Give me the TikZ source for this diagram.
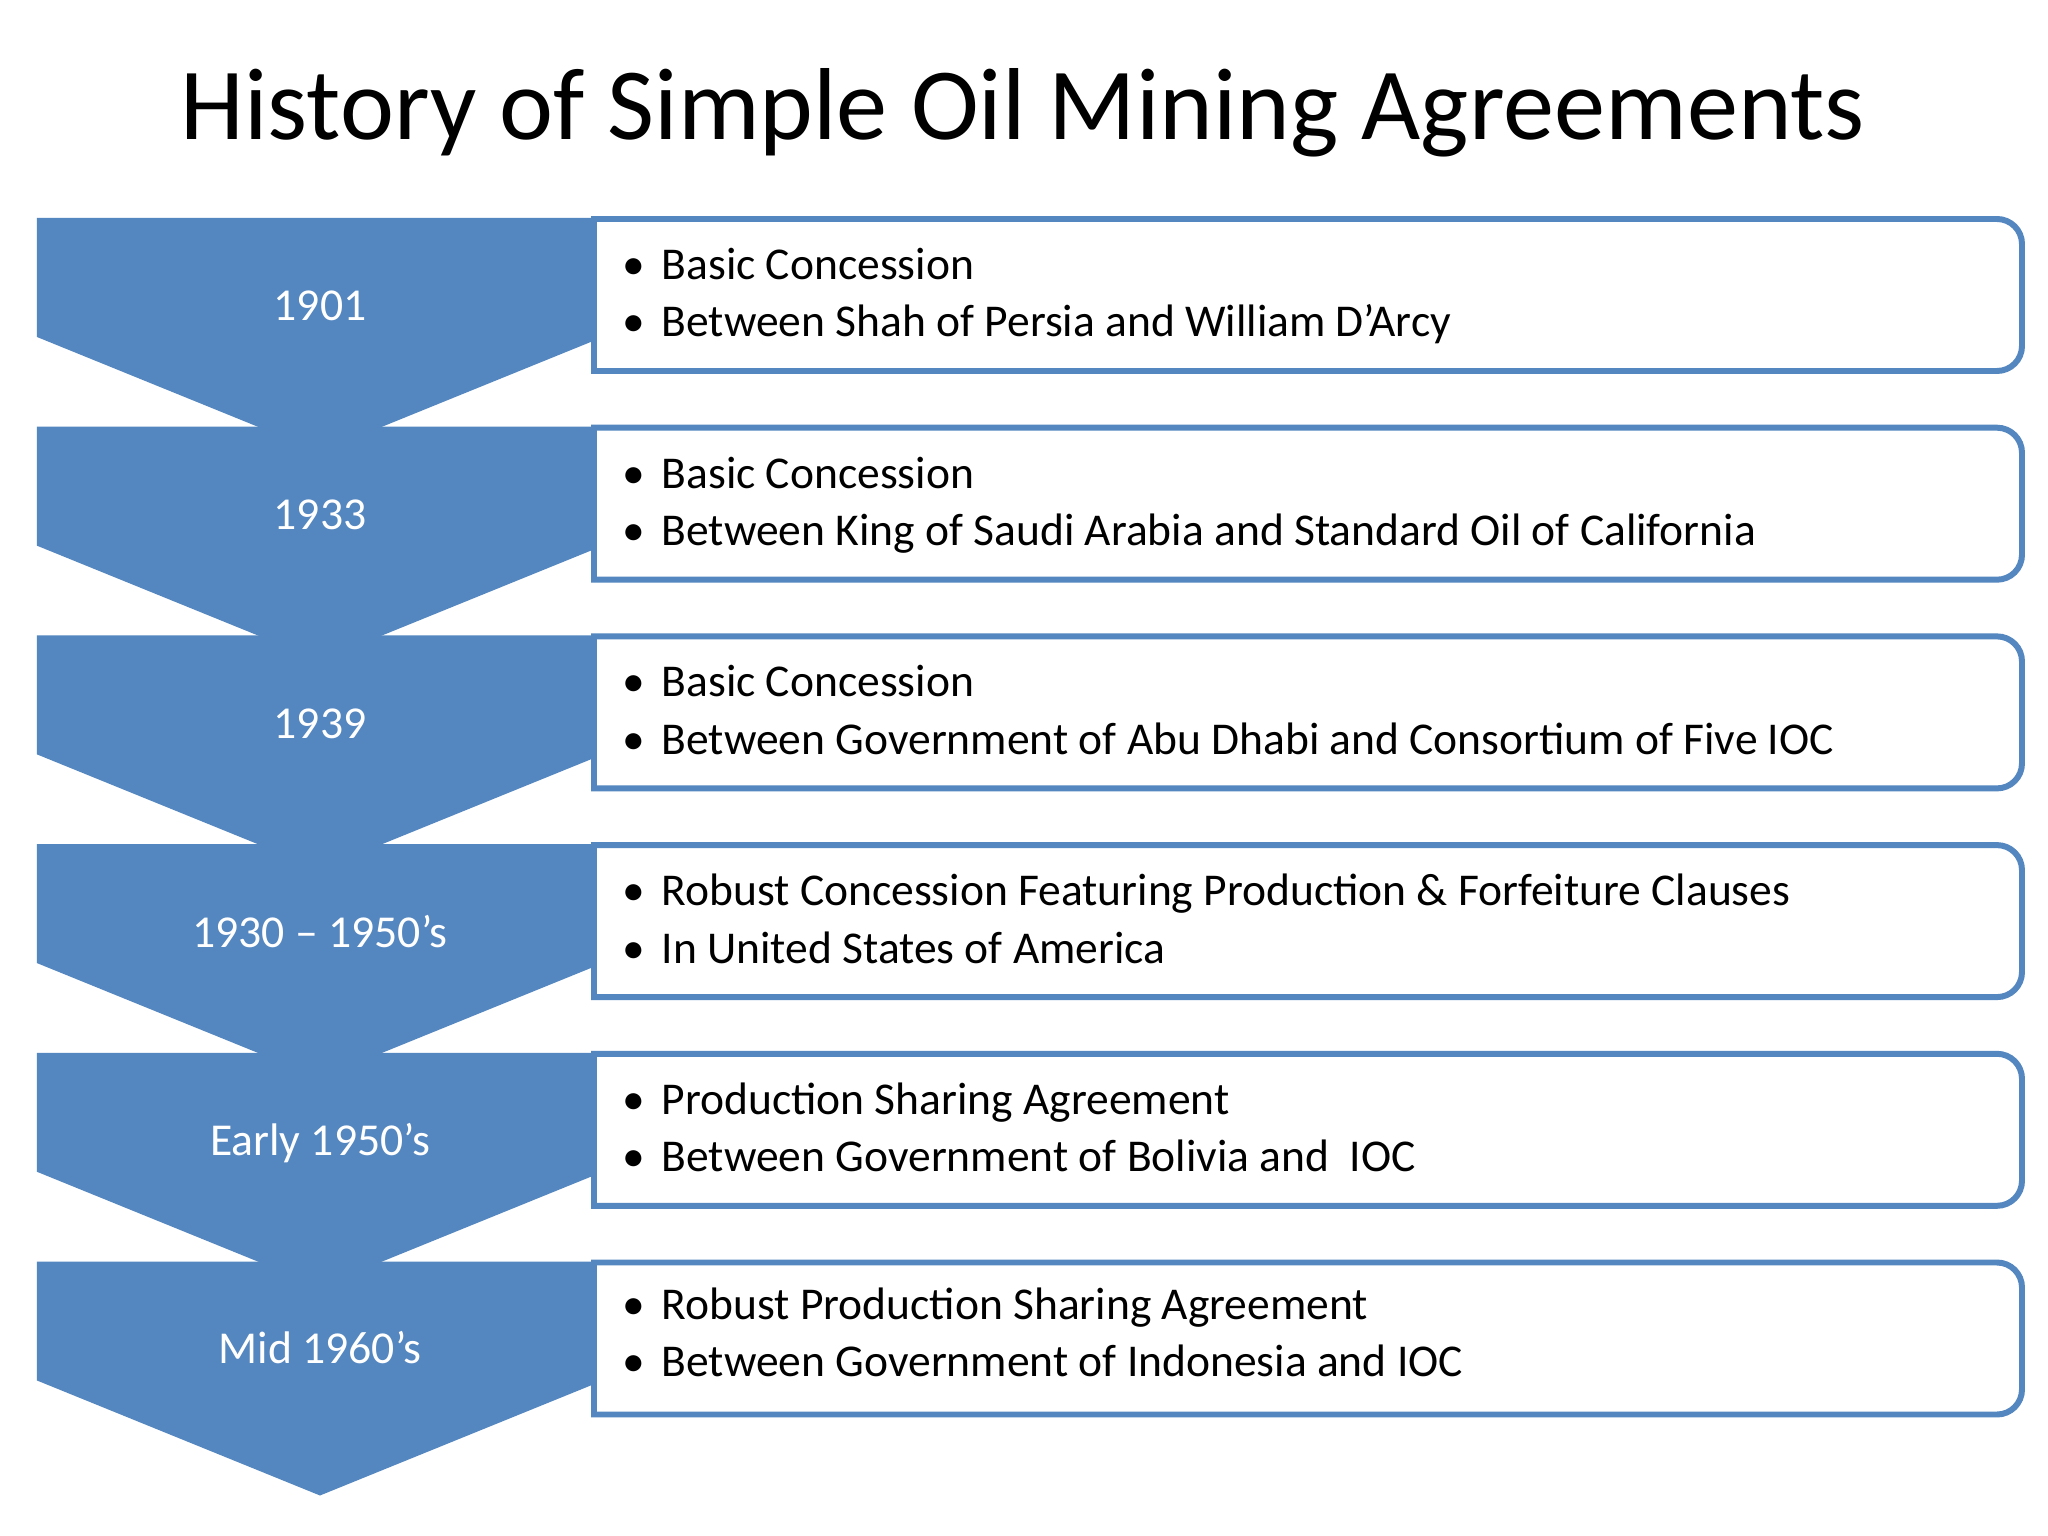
\documentclass[tikz,border=0pt]{standalone}
\usepackage{fontspec}
\setmainfont{Carlito}
\definecolor{chevblue}{RGB}{84,134,192}
\tikzset{
  chev/.style={fill=chevblue,draw=none},
  infobox/.style={draw=chevblue,fill=white,line width=1.7pt},
  yearlbl/.style={text=white,anchor=base,inner sep=0pt,font=\fontsize{13}{16}\selectfont},
  itemtxt/.style={anchor=base west,inner sep=0pt,font=\fontsize{12.95}{16}\selectfont}
}
\newcommand{\itm}[1]{\makebox[0.39cm][l]{\textbullet}#1}

\begin{document}
\begin{tikzpicture}

\fill[white] (0,0) rectangle (20.48,-15.36);
\useasboundingbox (0,0) rectangle (20.48,-15.36);

\node[anchor=base,inner sep=0pt,font=\fontsize{29.1}{35}\selectfont] (title) at (10.23,-1.40) {History of Simple Oil Mining Agreements};

% chevrons and boxes
\foreach \i in {0,...,5}{
  \pgfmathsetmacro{\yt}{-2.18-2.087*\i}
  \fill[chev] (0.37,\yt) -- (6.03,\yt) -- (6.03,\yt-1.19) -- (3.20,\yt-2.34) -- (0.37,\yt-1.19) -- cycle;
  \draw[infobox] (5.94,\yt-0.01) -- (19.97,\yt-0.01) arc[start angle=90,end angle=0,radius=0.25]
    -- (20.22,\yt-1.28) arc[start angle=0,end angle=-90,radius=0.25] -- (5.94,\yt-1.53) -- cycle;
}

\node[yearlbl] (y1901) at (3.20,-3.21) {1901};
\node[itemtxt] (a1901) at (6.22,-2.795) {\itm{Basic Concession}};
\node[itemtxt] (b1901) at (6.22,-3.37) {\itm{Between Shah of Persia and William D’Arcy}};

\node[yearlbl] (y1933) at (3.20,-5.297) {1933};
\node[itemtxt] (a1933) at (6.22,-4.882) {\itm{Basic Concession}};
\node[itemtxt] (b1933) at (6.22,-5.457) {\itm{Between King of Saudi Arabia and Standard Oil of California}};

\node[yearlbl] (y1939) at (3.20,-7.384) {1939};
\node[itemtxt] (a1939) at (6.22,-6.969) {\itm{Basic Concession}};
\node[itemtxt] (b1939) at (6.22,-7.544) {\itm{Between Government of Abu Dhabi and Consortium of Five IOC}};

\node[yearlbl] (y1930) at (3.20,-9.471) {1930 – 1950’s};
\node[itemtxt] (a1930) at (6.22,-9.056) {\itm{Robust Concession Featuring Production \& Forfeiture Clauses}};
\node[itemtxt] (b1930) at (6.22,-9.631) {\itm{In United States of America}};

\node[yearlbl] (y1950) at (3.20,-11.558) {Early 1950’s};
\node[itemtxt] (a1950) at (6.22,-11.143) {\itm{Production Sharing Agreement}};
\node[itemtxt] (b1950) at (6.22,-11.718) {\itm{Between Government of Bolivia and~~IOC}};

\node[yearlbl] (y1960) at (3.20,-13.63) {Mid 1960’s};
\node[itemtxt] (a1960) at (6.22,-13.19) {\itm{Robust Production Sharing Agreement}};
\node[itemtxt] (b1960) at (6.22,-13.765) {\itm{Between Government of Indonesia and IOC}};

\end{tikzpicture}
\end{document}
